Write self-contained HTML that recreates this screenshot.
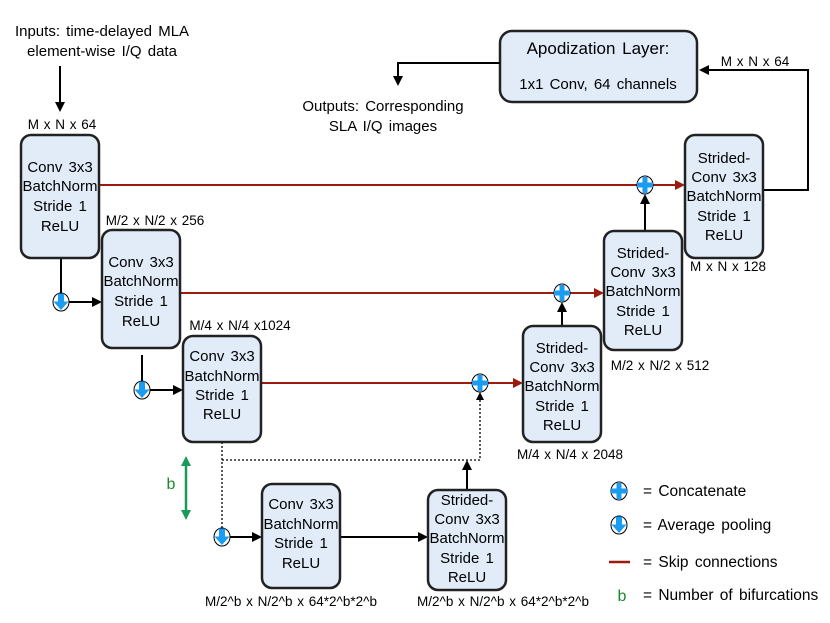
<!DOCTYPE html>
<html><head><meta charset="utf-8"><style>
body{margin:0;background:#fff}
svg{display:block;font-family:"Liberation Sans",sans-serif}
</style></head><body>
<svg width="830" height="623" viewBox="0 0 830 623" xmlns="http://www.w3.org/2000/svg">
<defs>
<marker id="ab" markerWidth="10" markerHeight="10" refX="8" refY="5" orient="auto" markerUnits="userSpaceOnUse"><path d="M0,0 L10,5 L0,10 z" fill="#000"/></marker>
<marker id="ar" markerWidth="10" markerHeight="10" refX="8" refY="5" orient="auto" markerUnits="userSpaceOnUse"><path d="M0,0 L10,5 L0,10 z" fill="#9b1c0c"/></marker>
<g id="conc"><ellipse cx="0" cy="0" rx="8" ry="9" fill="#fff" stroke="#000" stroke-width="1"/><path d="M-2.5,-8 h5 v5.5 h5.5 v5 h-5.5 v5.5 h-5 v-5.5 h-5.5 v-5 h5.5z" fill="#1a9cf0"/></g>
<g id="pool"><ellipse cx="0" cy="0" rx="8" ry="9" fill="#fff" stroke="#000" stroke-width="1"/><path d="M-3,-8.5 h6 v8 h4.5 l-7.5,8.5 l-7.5,-8.5 h4.5z" fill="#1a9cf0"/></g>
</defs>
<style>.b{fill:#e1ecf8;stroke:#222;stroke-width:2.5}.t{font-size:15px;text-anchor:middle;word-spacing:2px}.s{font-size:13.5px;text-anchor:middle;word-spacing:1px}.l{font-size:15.5px;word-spacing:2px}</style>

<text class="t" x="102" y="36">Inputs: time-delayed MLA</text>
<text class="t" x="102" y="56">element-wise I/Q data</text>
<line x1="60" y1="66" x2="60" y2="110" stroke="#000" stroke-width="2" marker-end="url(#ab)"/>
<text class="s" x="62" y="129">M x N x 64</text>

<rect class="b" x="500" y="31" width="197" height="71" rx="12"/>
<text x="598" y="54" text-anchor="middle" font-size="17" word-spacing="2">Apodization Layer:</text>
<text class="t" x="598" y="89">1x1 Conv, 64 channels</text>
<polyline points="500,63 398,63 398,84" fill="none" stroke="#000" stroke-width="2" marker-end="url(#ab)"/>
<text class="t" x="383" y="111">Outputs: Corresponding</text>
<text class="t" x="383" y="131">SLA I/Q images</text>
<polyline points="763,190 808,190 808,70 701,70" fill="none" stroke="#000" stroke-width="2" marker-end="url(#ab)"/>
<text class="s" x="755" y="66">M x N x 64</text>

<line x1="99" y1="185" x2="683" y2="185" stroke="#9b1c0c" stroke-width="2" marker-end="url(#ar)"/>
<line x1="180" y1="293" x2="602" y2="293" stroke="#9b1c0c" stroke-width="2" marker-end="url(#ar)"/>
<line x1="261" y1="383" x2="521" y2="383" stroke="#9b1c0c" stroke-width="2" marker-end="url(#ar)"/>

<line x1="61" y1="258" x2="61" y2="294" stroke="#000" stroke-width="2"/>
<line x1="69" y1="302" x2="100" y2="302" stroke="#000" stroke-width="2" marker-end="url(#ab)"/>
<line x1="142" y1="355" x2="142" y2="382" stroke="#000" stroke-width="2"/>
<line x1="150" y1="390" x2="181" y2="390" stroke="#000" stroke-width="2" marker-end="url(#ab)"/>
<line x1="230" y1="537" x2="260" y2="537" stroke="#000" stroke-width="2" marker-end="url(#ab)"/>
<line x1="340" y1="537" x2="426" y2="537" stroke="#000" stroke-width="2" marker-end="url(#ab)"/>
<line x1="467" y1="490" x2="467" y2="462" stroke="#000" stroke-width="2" marker-end="url(#ab)"/>
<line x1="562" y1="326" x2="562" y2="304" stroke="#000" stroke-width="2" marker-end="url(#ab)"/>
<line x1="645" y1="230" x2="645" y2="196" stroke="#000" stroke-width="2" marker-end="url(#ab)"/>
<polyline points="222,442 222,528" fill="none" stroke="#000" stroke-width="1.3" stroke-dasharray="2,2"/>
<polyline points="222,460 480,460 480,396" fill="none" stroke="#000" stroke-width="1.3" stroke-dasharray="2,2"/>
<path d="M476,400 L480,392 L484,400z" fill="#000"/>

<line x1="186" y1="460" x2="186" y2="516" stroke="#1a9a5a" stroke-width="2.5"/>
<path d="M181,466 L186,456 L191,466z M181,510 L186,520 L191,510z" fill="#1a9a5a"/>
<text x="171" y="489" font-size="16" fill="#1a8a2a" text-anchor="middle">b</text>

<rect class="b" x="21" y="135" width="78" height="123" rx="10"/>
<text class="t" x="60" y="172">Conv 3x3</text><text class="t" x="60" y="191">BatchNorm</text><text class="t" x="60" y="211">Stride 1</text><text class="t" x="60" y="231">ReLU</text>
<text class="s" x="155" y="225">M/2 x N/2 x 256</text>
<rect class="b" x="102" y="230" width="78" height="118" rx="10"/>
<text class="t" x="141" y="267">Conv 3x3</text><text class="t" x="141" y="286">BatchNorm</text><text class="t" x="141" y="306">Stride 1</text><text class="t" x="141" y="326">ReLU</text>
<text class="s" x="240" y="330">M/4 x N/4 x1024</text>
<rect class="b" x="183" y="336" width="78" height="106" rx="10"/>
<text class="t" x="222" y="361">Conv 3x3</text><text class="t" x="222" y="381">BatchNorm</text><text class="t" x="222" y="400">Stride 1</text><text class="t" x="222" y="419">ReLU</text>

<rect class="b" x="262" y="484" width="78" height="104" rx="10"/>
<text class="t" x="301" y="509">Conv 3x3</text><text class="t" x="301" y="529">BatchNorm</text><text class="t" x="301" y="548">Stride 1</text><text class="t" x="301" y="568">ReLU</text>
<text class="s" x="291" y="606">M/2^b x N/2^b x 64*2^b*2^b</text>

<rect class="b" x="428" y="490" width="78" height="100" rx="10"/>
<text class="t" x="467" y="505">Strided-</text><text class="t" x="467" y="524">Conv 3x3</text><text class="t" x="467" y="543">BatchNorm</text><text class="t" x="467" y="563">Stride 1</text><text class="t" x="467" y="582">ReLU</text>
<text class="s" x="503" y="606">M/2^b x N/2^b x 64*2^b*2^b</text>

<rect class="b" x="523" y="326" width="78" height="116" rx="10"/>
<text class="t" x="562" y="353">Strided-</text><text class="t" x="562" y="372">Conv 3x3</text><text class="t" x="562" y="391">BatchNorm</text><text class="t" x="562" y="411">Stride 1</text><text class="t" x="562" y="430">ReLU</text>
<text class="s" x="570" y="459">M/4 x N/4 x 2048</text>

<rect class="b" x="604" y="231" width="78" height="119" rx="10"/>
<text class="t" x="643" y="258">Strided-</text><text class="t" x="643" y="277">Conv 3x3</text><text class="t" x="643" y="296">BatchNorm</text><text class="t" x="643" y="316">Stride 1</text><text class="t" x="643" y="335">ReLU</text>
<text class="s" x="660" y="370">M/2 x N/2 x 512</text>

<rect class="b" x="685" y="135" width="78" height="123" rx="10"/>
<text class="t" x="724" y="163">Strided-</text><text class="t" x="724" y="182">Conv 3x3</text><text class="t" x="724" y="201">BatchNorm</text><text class="t" x="724" y="221">Stride 1</text><text class="t" x="724" y="240">ReLU</text>
<text class="s" x="728" y="271">M x N x 128</text>

<use href="#pool" x="61" y="302"/>
<use href="#pool" x="142" y="390"/>
<use href="#pool" x="222" y="537"/>
<use href="#conc" x="645" y="185"/>
<use href="#conc" x="562" y="293"/>
<use href="#conc" x="480" y="383"/>

<use href="#conc" x="619" y="491"/>
<text class="l" x="643" y="496">= Concatenate</text>
<use href="#pool" x="619" y="525"/>
<text class="l" x="643" y="530">= Average pooling</text>
<line x1="609" y1="562" x2="630" y2="562" stroke="#9b1c0c" stroke-width="2.5"/>
<text class="l" x="643" y="567">= Skip connections</text>
<text x="622" y="601" font-size="16" fill="#1a8a2a" text-anchor="middle">b</text>
<text class="l" x="643" y="600">= Number of bifurcations</text>
</svg>
</body></html>
